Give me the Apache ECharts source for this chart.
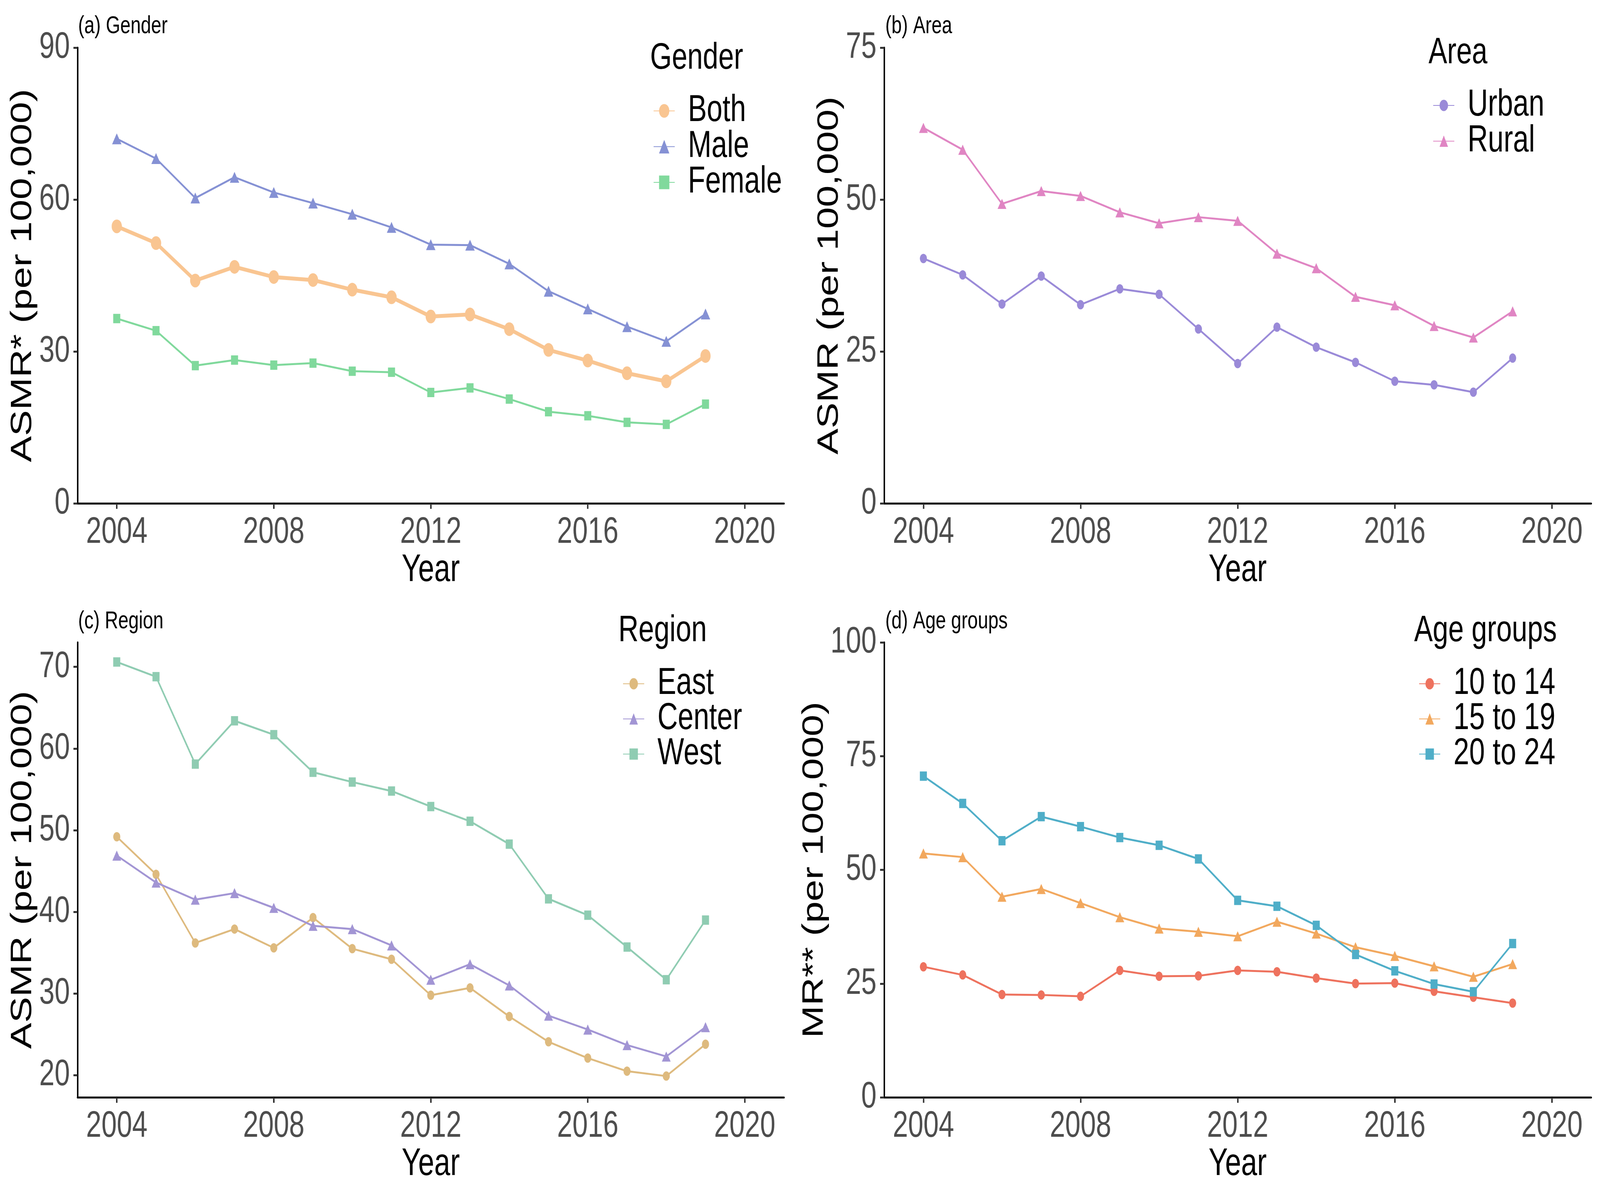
<!DOCTYPE html>
<html>
<head>
<meta charset="utf-8">
<script src="https://cdn.jsdelivr.net/npm/echarts@6/dist/echarts.min.js"></script>
<style>
html,body{margin:0;padding:0;background:#fff;overflow:hidden;}
#wrap{position:absolute;left:0;top:0;width:5449px;height:3055px;transform-origin:0 0;}
#chart{width:5449px;height:3055px;}
</style>
</head>
<body>
<div id="wrap"><div id="chart"></div></div>
<script>
// ---- data ----
var years = [2004,2005,2006,2007,2008,2009,2010,2011,2012,2013,2014,2015,2016,2017,2018,2019];
var xTicks = [2004,2008,2012,2016,2020];

var genderBoth   = [54.7,51.4,44.0,46.7,44.7,44.1,42.2,40.7,36.9,37.3,34.4,30.3,28.2,25.7,24.1,29.1];
var genderMale   = [72.0,68.1,60.3,64.4,61.4,59.3,57.1,54.5,51.1,51.0,47.3,41.9,38.4,34.9,32.0,37.4];
var genderFemale = [36.5,34.1,27.2,28.3,27.3,27.7,26.1,25.9,21.9,22.8,20.6,18.1,17.3,16.0,15.6,19.6];

var areaUrban = [40.3,37.6,32.8,37.4,32.7,35.3,34.4,28.7,23.0,29.0,25.7,23.2,20.1,19.5,18.3,23.9];
var areaRural = [61.8,58.2,49.3,51.4,50.6,47.9,46.1,47.1,46.5,41.1,38.7,34.0,32.6,29.2,27.3,31.6];

var regionEast   = [49.2,44.6,36.2,37.9,35.6,39.3,35.5,34.2,29.8,30.7,27.2,24.1,22.1,20.5,19.9,23.8];
var regionCenter = [46.9,43.6,41.5,42.3,40.5,38.3,37.9,35.9,31.7,33.6,31.0,27.3,25.6,23.7,22.3,25.9];
var regionWest   = [70.6,68.8,58.1,63.4,61.7,57.1,55.9,54.8,52.9,51.1,48.3,41.6,39.6,35.7,31.7,39.0];

var age10to14 = [28.7,26.9,22.6,22.5,22.2,27.9,26.6,26.7,27.9,27.6,26.2,25.0,25.1,23.3,22.0,20.7];
var age15to19 = [53.6,52.8,44.1,45.8,42.7,39.6,37.1,36.4,35.4,38.6,36.0,33.0,31.1,28.8,26.5,29.3];
var age20to24 = [70.6,64.6,56.4,61.7,59.5,57.1,55.4,52.4,43.3,42.0,37.8,31.4,27.8,24.9,23.2,33.8];

var yTicksA = [0,30,60,90];
var yTicksB = [0,25,50,75];
var yTicksC = [20,30,40,50,60,70];
var yTicksD = [0,25,50,75,100];

// fit the 5449 x 3055 design into whatever window the page gets
(function(){
  var sx = window.innerWidth / 5449, sy = window.innerHeight / 3055;
  document.getElementById('wrap').style.transform = 'scale(' + sx + ',' + sy + ')';
})();

var FONT = "'Liberation Sans', Arial, Helvetica, sans-serif";
function pairs(vals){ return years.map(function(y,i){ return [y, vals[i]]; }); }

var grids = [
  {left:264,  top:122,  width:2406, height:1167},
  {left:3011, top:122,  width:2408, height:1167},
  {left:264,  top:1645, width:2406, height:1165},
  {left:3011, top:1645, width:2408, height:1165}
];

function xAxisCfg(gi){
  return {
    type:'value', gridIndex:gi, min:2003, max:2021,
    name:'Year', nameLocation:'middle', nameGap:118,
    nameTextStyle:{fontFamily:FONT, fontSize:98, color:'#000'},
    splitLine:{show:false},
    axisLine:{show:true, onZero:false, lineStyle:{color:'#000', width:5}},
    axisTick:{show:true, length:14, customValues:xTicks, lineStyle:{color:'#333', width:5}},
    axisLabel:{show:true, customValues:xTicks, margin:28, fontFamily:FONT, fontSize:94, color:'#4D4D4D',
      formatter:function(v){ return String(v); }}
  };
}
function yAxisCfg(gi, min, max, ticks, name){
  return {
    type:'value', gridIndex:gi, min:min, max:max,
    name:name, nameLocation:'middle', nameGap:136,
    nameTextStyle:{fontFamily:FONT, fontSize:100, color:'#000'},
    splitLine:{show:false},
    axisLine:{show:true, onZero:false, lineStyle:{color:'#000', width:5}},
    axisTick:{show:true, length:14, customValues:ticks, lineStyle:{color:'#333', width:5}},
    axisLabel:{show:true, customValues:ticks, margin:26, fontFamily:FONT, fontSize:94, color:'#4D4D4D',
      formatter:function(v){ return String(v); }}
  };
}
function lineSeries(name, gi, vals, color, symbol, size, width){
  return {
    name:name, type:'line', xAxisIndex:gi, yAxisIndex:gi,
    data:pairs(vals), symbol:symbol, symbolSize:size, showSymbol:true,
    itemStyle:{color:color}, lineStyle:{color:color, width:width},
    emphasis:{disabled:true}, animation:false, z:3
  };
}
function legendCfg(names, left, top, ih, gap){
  return {
    orient:'vertical', left:left, top:top, data:names,
    itemWidth:72, itemHeight:ih, itemGap:gap,
    selectedMode:false,
    textStyle:{fontFamily:FONT, fontSize:96, color:'#000', padding:[0,0,0,40]}
  };
}
function txt(x, y, s, size){
  return {type:'text', style:{x:x, y:y, text:s, fontFamily:FONT, fontSize:size, fill:'#000', textAlign:'left', textVerticalAlign:'middle'}};
}

var option = {
  backgroundColor:'#fff',
  animation:false,
  grid:grids.map(function(g){ return {left:g.left, top:g.top, width:g.width, height:g.height, containLabel:false}; }),
  xAxis:[xAxisCfg(0), xAxisCfg(1), xAxisCfg(2), xAxisCfg(3)],
  yAxis:[
    yAxisCfg(0, 0, 90, yTicksA, 'ASMR* (per 100,000)'),
    yAxisCfg(1, 0, 75, yTicksB, 'ASMR (per 100,000)'),
    yAxisCfg(2, 17.3, 73.0, yTicksC, 'ASMR (per 100,000)'),
    yAxisCfg(3, 0, 100, yTicksD, 'MR** (per 100,000)')
  ],
  legend:[
    legendCfg(['Both','Male','Female'], 2220, 231, 44, -4.5),
    legendCfg(['Urban','Rural'], 4875, 217, 36, -4.5),
    legendCfg(['East','Center','West'], 2116, 1698, 36, -6),
    legendCfg(['10 to 14','15 to 19','20 to 24'], 4827, 1698, 36, -6)
  ],
  graphic:[
    txt(266, 68, '(a) Gender', 63),
    txt(3015, 68, '(b) Area', 63),
    txt(266, 1592, '(c) Region', 63),
    txt(3015, 1592, '(d) Age groups', 63),
    txt(2214, 150, 'Gender', 95),
    txt(4865, 136, 'Area', 95),
    txt(2106, 1616, 'Region', 95),
    txt(4816, 1616, 'Age groups', 95)
  ],
  series:[
    lineSeries('Both',   0, genderBoth,   '#F9C591', 'circle',   35, 10),
    lineSeries('Male',   0, genderMale,   '#8591D4', 'triangle', [32,28], 5),
    lineSeries('Female', 0, genderFemale, '#80D99C', 'rect',     24, 5),
    lineSeries('Urban',  1, areaUrban,    '#9A8AD8', 'circle',   24, 5),
    lineSeries('Rural',  1, areaRural,    '#E085C3', 'triangle', [30,26], 5),
    lineSeries('East',   2, regionEast,   '#DEBA7E', 'circle',   24, 5),
    lineSeries('Center', 2, regionCenter, '#A295D4', 'triangle', [30,26], 5),
    lineSeries('West',   2, regionWest,   '#8FCCB2', 'rect',     24, 5),
    lineSeries('10 to 14', 3, age10to14,  '#EE725E', 'circle',   24, 5),
    lineSeries('15 to 19', 3, age15to19,  '#F2A85E', 'triangle', [30,26], 5),
    lineSeries('20 to 24', 3, age20to24,  '#4FAEC8', 'rect',     24, 5)
  ]
};

var chart = echarts.init(document.getElementById('chart'), null, {renderer:'canvas'});
chart.setOption(option);
</script>
</body>
</html>
